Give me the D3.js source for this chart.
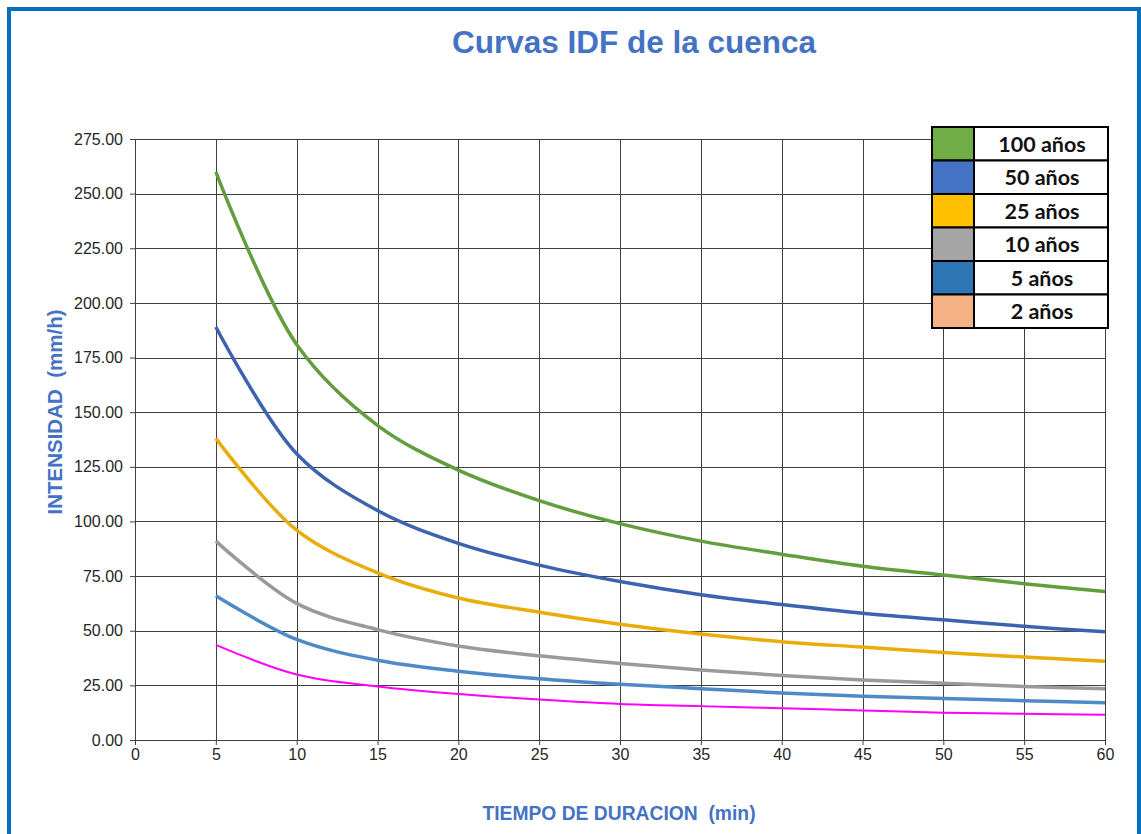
<!DOCTYPE html>
<html>
  <head>
    <meta charset="utf-8">
    <script src="https://d3js.org/d3.v7.min.js"></script>
    <title>Curvas IDF</title>
    <style>
      body {
        margin: 0px;
        background: #fff;
      }
      .domain {
        stroke: #404040;
      }
      .tick line {
        stroke: #404040;
      }
      .tick text {
        fill: #262626;
        font-size: 16px;
        font-family: Arial, "Liberation Sans", sans-serif;
      }
      .axis-label {
        fill: #4472C4;
        font-weight: bold;
        font-family: Arial, "Liberation Sans", sans-serif;
        white-space: pre;
      }
    </style>
  </head>
  <body>
    <svg width="1141" height="834"></svg>
    <script>
      // duraciones (min) e intensidades (mm/h)
      const duracion = [5, 10, 15, 20, 25, 30, 35, 40, 45, 50, 55, 60];
      const i100 = [260, 181, 144, 123.5, 109.5, 99, 91, 85, 79.5, 75.5, 71.5, 68];
      const i50  = [189, 131, 105, 90, 80, 72.5, 66.5, 62, 58, 55, 52, 49.5];
      const i25  = [138, 96, 76.5, 65, 58.5, 53, 48.5, 45, 42.5, 40, 38, 36];
      const i10  = [91, 62.5, 50.5, 43, 38.5, 35, 32, 29.5, 27.5, 26, 24.5, 23.5];
      const i5   = [66, 46, 36.5, 31.5, 28, 25.5, 23.5, 21.5, 20, 19, 18, 17];
      const i2   = [43.5, 30, 24.5, 21, 18.5, 16.5, 15.5, 14.5, 13.5, 12.5, 12, 11.5];

      const periodos = ['100 años', '50 años', '25 años', '10 años', '5 años', '2 años'];
      const legendColors = ['#70AD47', '#4472C4', '#FFC000', '#A5A5A5', '#2E75B6', '#F4B183'];
      const lineColors = ['#629E3E', '#3C63B0', '#E9AC0B', '#9A9A9A', '#4D8AC6', '#FF00FF'];
      const series = [i100, i50, i25, i10, i5, i2];

      const xTicks = d3.range(0, 61, 5);
      const yTicks = d3.range(0, 276, 25);

      const title = 'Curvas IDF de la cuenca';
      const xLabel = 'TIEMPO DE DURACION  (min)';
      const yLabel = 'INTENSIDAD  (mm/h)';

      const margin = { left: 135, right: 36, top: 139, bottom: 94 };
      const svg = d3.select('svg');
      const width = +svg.attr('width');
      const height = +svg.attr('height');
      const innerWidth = width - margin.left - margin.right;
      const innerHeight = height - margin.top - margin.bottom;

      // marco azul
      svg.append('rect')
          .attr('x', 9)
          .attr('y', 9)
          .attr('width', 1130)
          .attr('height', 900)
          .attr('fill', 'none')
          .attr('stroke', '#0070C0')
          .attr('stroke-width', 4);

      svg.append('text')
          .attr('x', 634)
          .attr('y', 53)
          .attr('text-anchor', 'middle')
          .style('font-family', 'Arial, "Liberation Sans", sans-serif')
          .style('font-weight', 'bold')
          .style('font-size', '31.5px')
          .style('fill', '#4472C4')
          .text(title);

      const g = svg.append('g')
          .attr('transform', `translate(${margin.left},${margin.top})`);

      const xScale = d3.scaleLinear().domain([0, 60]).range([0, innerWidth]);
      const yScale = d3.scaleLinear().domain([0, 275]).range([innerHeight, 0]);

      // rejilla
      g.append('g').selectAll('line').data(xTicks).join('line')
          .attr('x1', d => Math.round(xScale(d)) + 0.5)
          .attr('x2', d => Math.round(xScale(d)) + 0.5)
          .attr('y1', 0)
          .attr('y2', innerHeight)
          .attr('stroke', '#404040')
          .attr('stroke-width', 1);
      g.append('g').selectAll('line').data(yTicks).join('line')
          .attr('x1', 0)
          .attr('x2', innerWidth)
          .attr('y1', d => Math.round(yScale(d)) + 0.5)
          .attr('y2', d => Math.round(yScale(d)) + 0.5)
          .attr('stroke', '#404040')
          .attr('stroke-width', 1);

      const xAxis = d3.axisBottom(xScale)
          .tickValues(xTicks)
          .tickFormat(d3.format('d'))
          .tickSize(5)
          .tickPadding(4);
      const yAxis = d3.axisLeft(yScale)
          .tickValues(yTicks)
          .tickFormat(d3.format('.2f'))
          .tickSize(5)
          .tickPadding(7);

      g.append('g')
          .attr('transform', `translate(0, ${innerHeight})`)
          .call(xAxis);
      g.append('g').call(yAxis);

      g.append('text')
          .attr('class', 'axis-label')
          .attr('x', 619 - margin.left)
          .attr('y', 820 - margin.top)
          .attr('text-anchor', 'middle')
          .style('font-size', '19.3px')
          .text(xLabel);

      g.append('text')
          .attr('class', 'axis-label')
          .attr('transform', `translate(${62 - margin.left}, ${412 - margin.top}) rotate(-90)`)
          .attr('text-anchor', 'middle')
          .style('font-size', '20.5px')
          .text(yLabel);

      const line = d3.line()
          .x((d, i) => xScale(duracion[i]))
          .y(d => yScale(d))
          .curve(d3.curveCatmullRom);

      // dibujar de abajo hacia arriba
      series.slice().reverse().forEach((s, k) => {
        const idx = series.length - 1 - k;
        g.append('path')
            .datum(s)
            .attr('fill', 'none')
            .attr('stroke', lineColors[idx])
            .attr('stroke-width', idx === 5 ? 2 : 3.5)
            .attr('stroke-linejoin', 'round')
            .attr('d', line);
      });

      // leyenda tipo tabla
      const lg = svg.append('g').attr('transform', 'translate(932,127)');
      const rowH = 33.5;
      const swW = 42;
      const labW = 134;
      periodos.forEach((p, i) => {
        lg.append('rect')
            .attr('x', 0)
            .attr('y', i * rowH)
            .attr('width', swW)
            .attr('height', rowH)
            .attr('fill', legendColors[i])
            .attr('stroke', '#000')
            .attr('stroke-width', 2);
        lg.append('rect')
            .attr('x', swW)
            .attr('y', i * rowH)
            .attr('width', labW)
            .attr('height', rowH)
            .attr('fill', '#fff')
            .attr('stroke', '#000')
            .attr('stroke-width', 2);
        lg.append('text')
            .attr('x', swW + labW / 2 + 1)
            .attr('y', i * rowH + rowH / 2 + 8)
            .attr('text-anchor', 'middle')
            .style('font-family', 'Lato, "Open Sans", sans-serif')
            .style('font-weight', 'bold')
            .style('font-size', '21.5px')
            .style('fill', '#111')
            .text(p);
      });
    </script>
  </body>
</html>
